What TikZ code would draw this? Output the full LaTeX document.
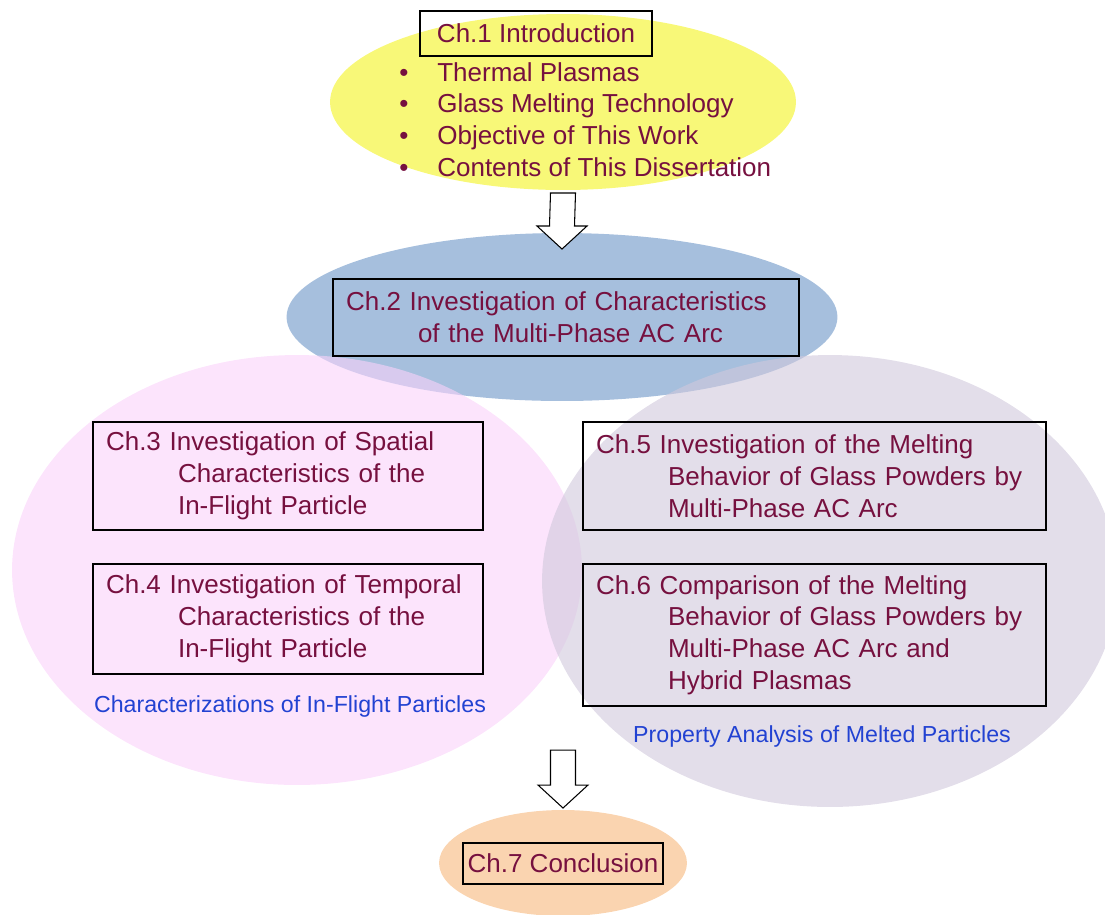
\documentclass[tikz,border=0pt]{standalone}
\usepackage{fontspec}
\setmainfont{Liberation Sans}
\usepackage{xcolor}
\usepackage{tikz}
\usetikzlibrary{calc,shapes.geometric}
\definecolor{chtext}{HTML}{76103F}
\definecolor{captext}{HTML}{2242D2}
\definecolor{introfill}{HTML}{F8F878}
\definecolor{arcfill}{HTML}{A6BFDD}
\definecolor{flightfill}{HTML}{FAD2FA}
\definecolor{meltfill}{HTML}{D0C8DC}
\definecolor{endfill}{HTML}{FAD4B0}
\newcommand{\chfont}{\fontsize{14.8}{18.1}\selectfont}
\newcommand{\capfont}{\fontsize{13.2}{15}\selectfont}
\newcommand{\chind}{\hspace*{1.44cm}}
\newcommand{\blt}{\makebox[0.76cm][l]{\textbullet}}
\newcommand{\blockarrow}[2]{%
  \draw[blkarr] ($(#1)+(-12.5,0)$) -- ($(#1)+(12.5,0)$) -- ($(#2)+(12.5,-23)$)
    -- ($(#2)+(25,-23)$) -- (#2) -- ($(#2)+(-25,-23)$) -- ($(#2)+(-12.5,-23)$) -- cycle;}
\tikzset{
  blob/.style={ellipse, draw=none, inner sep=0pt, outer sep=0pt},
  seeblob/.style={blob, fill opacity=0.6},
  chbox/.style={draw=black, line width=0.8pt, text=chtext, font=\chfont, inner sep=0pt},
  chlong/.style={chbox, align=left, inner xsep=0.26cm},
  caption/.style={text=captext, font=\capfont, inner sep=0pt},
  blkarr/.style={draw=black, fill=white, line width=0.6pt, line join=miter}
}
\begin{document}
\begin{tikzpicture}[x=0.02cm, y=-0.02cm]
  \useasboundingbox (0,0) rectangle (1105,914);

  % coloured groups
  \node[blob, fill=introfill, minimum width=9.32cm, minimum height=3.52cm] (yel) at (563,102) {};
  \node[blob, fill=arcfill, minimum width=11.02cm, minimum height=3.36cm] (blu) at (562,317) {};
  \node[seeblob, fill=flightfill, minimum width=11.4cm, minimum height=8.6cm] (pnk) at (297,570) {};
  \node[seeblob, fill=meltfill, minimum width=11.52cm, minimum height=9.04cm] (gry) at (830,581) {};
  \node[blob, fill=endfill, minimum width=4.96cm, minimum height=2.12cm] (pch) at (563,863) {};

  % chapters
  \node[chbox, minimum width=4.64cm, minimum height=0.9cm] (ch1) at (536,33.5) {Ch.1 Introduction};
  \node[text=chtext, font=\chfont, align=left, inner sep=0pt, anchor=west] (bul) at (399,119.5)
    {\blt Thermal Plasmas\\ \blt Glass Melting Technology\\ \blt Objective of This Work\\ \blt Contents of This Dissertation};

  \node[chlong, text width=8.8cm, minimum height=1.54cm] (ch2) at (566,317.5)
    {Ch.2 Investigation of Characteristics\\ \chind of the Multi-Phase AC Arc};

  \node[chlong, text width=7.28cm, minimum height=2.16cm] (ch3) at (288,476)
    {Ch.3 Investigation of Spatial\\ \chind Characteristics of the\\ \chind In-Flight Particle};
  \node[chlong, text width=7.28cm, minimum height=2.2cm] (ch4) at (288,619)
    {Ch.4 Investigation of Temporal\\ \chind Characteristics of the\\ \chind In-Flight Particle};
  \node[caption] (cap1) at (290,706) {Characterizations of In-Flight Particles};

  \node[chlong, text width=8.74cm, minimum height=2.16cm] (ch5) at (814.5,476)
    {Ch.5 Investigation of the Melting\\ \chind Behavior of Glass Powders by\\ \chind Multi-Phase AC Arc};
  \node[chlong, text width=8.74cm, minimum height=2.84cm] (ch6) at (814.5,635)
    {Ch.6 Comparison of the Melting\\ \chind Behavior of Glass Powders by\\ \chind Multi-Phase AC Arc and\\ \chind Hybrid Plasmas};
  \node[caption] (cap2) at (822,736) {Property Analysis of Melted Particles};

  \node[chbox, minimum width=4cm, minimum height=0.82cm] (ch7) at (563,863.5) {Ch.7 Conclusion};

  % flow arrows
  \coordinate (a1s) at ($(yel.south)+(0,3)$);
  \coordinate (a1e) at ($(blu.north)+(0,16)$);
  \coordinate (a2s) at ($(pch.north)+(0,-60)$);
  \coordinate (a2e) at ($(pch.north)+(0,-2)$);
  \blockarrow{a1s}{a1e}
  \blockarrow{a2s}{a2e}
\end{tikzpicture}
\end{document}
